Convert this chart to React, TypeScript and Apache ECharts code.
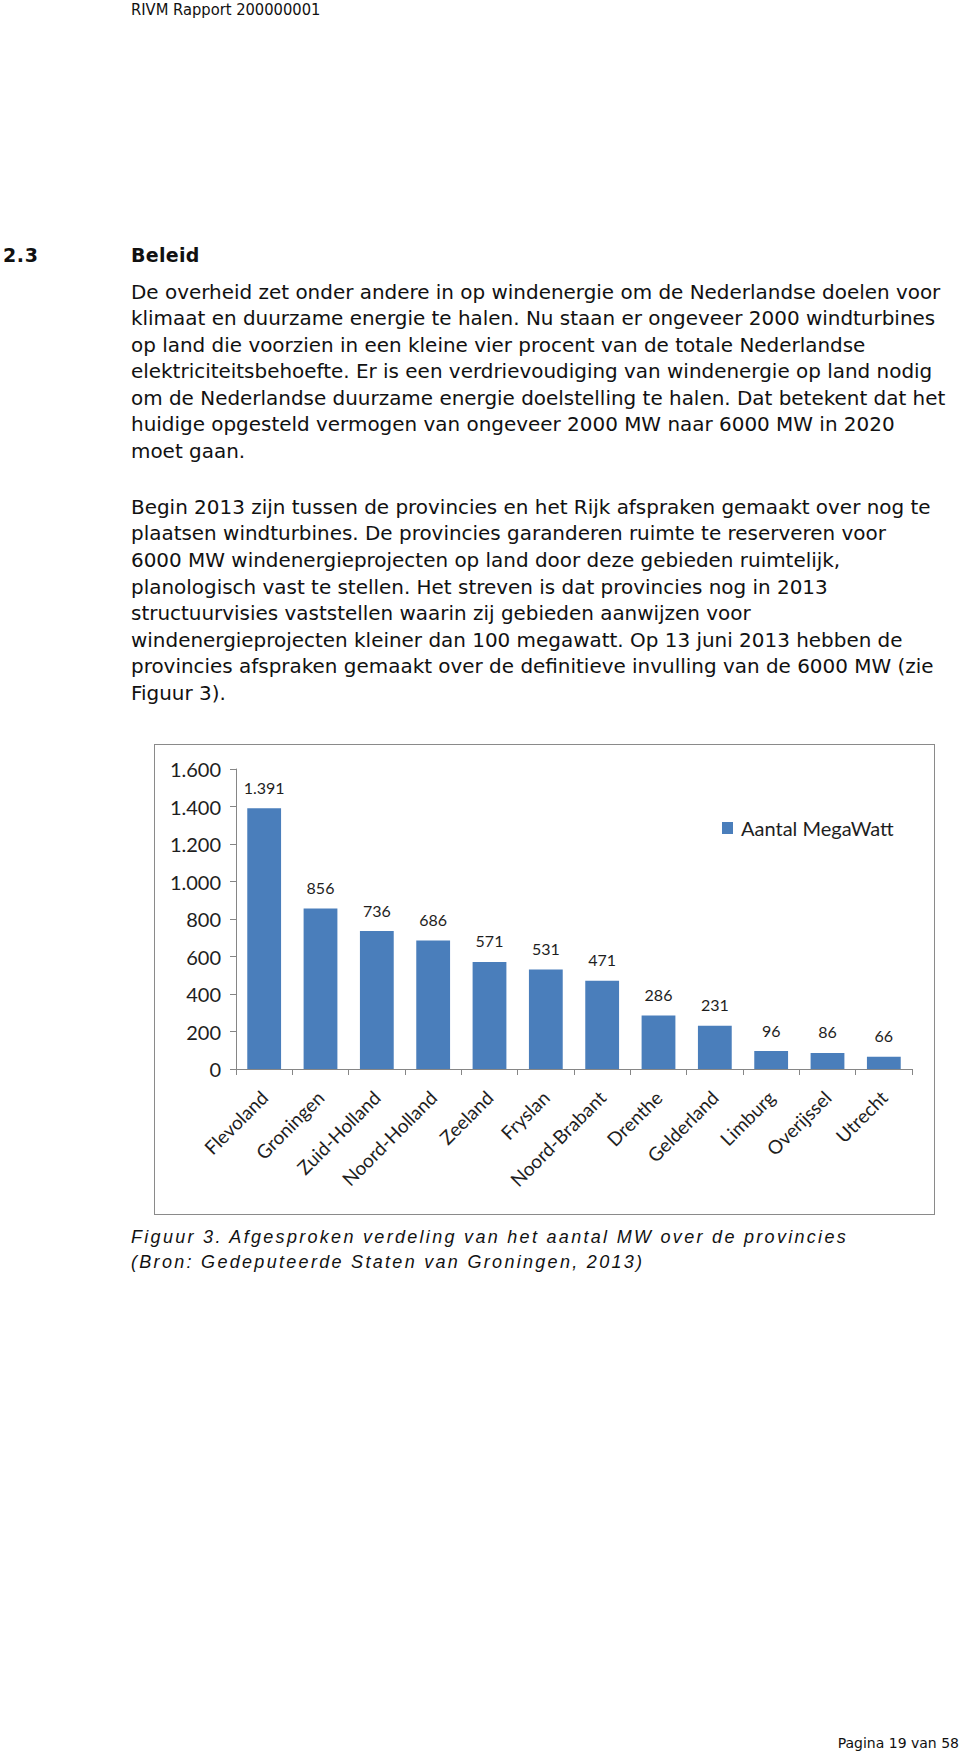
import React, { useEffect, useRef } from "react";
import * as echarts from "echarts";

const provinces = [
  "Flevoland",
  "Groningen",
  "Zuid-Holland",
  "Noord-Holland",
  "Zeeland",
  "Fryslan",
  "Noord-Brabant",
  "Drenthe",
  "Gelderland",
  "Limburg",
  "Overijssel",
  "Utrecht",
];
const megawatt = [1391, 856, 736, 686, 571, 531, 471, 286, 231, 96, 86, 66];
const seriesName = "Aantal MegaWatt";
const yMin = 0;
const yMax = 1600;
const yStep = 200;

const headerText = "RIVM Rapport 200000001";
const sectionNumber = "2.3";
const sectionTitle = "Beleid";
const paragraph1 = [
  "De overheid zet onder andere in op windenergie om de Nederlandse doelen voor",
  "klimaat en duurzame energie te halen. Nu staan er ongeveer 2000 windturbines",
  "op land die voorzien in een kleine vier procent van de totale Nederlandse",
  "elektriciteitsbehoefte. Er is een verdrievoudiging van windenergie op land nodig",
  "om de Nederlandse duurzame energie doelstelling te halen. Dat betekent dat het",
  "huidige opgesteld vermogen van ongeveer 2000 MW naar 6000 MW in 2020",
  "moet gaan.",
];
const paragraph2 = [
  "Begin 2013 zijn tussen de provincies en het Rijk afspraken gemaakt over nog te",
  "plaatsen windturbines. De provincies garanderen ruimte te reserveren voor",
  "6000 MW windenergieprojecten op land door deze gebieden ruimtelijk,",
  "planologisch vast te stellen. Het streven is dat provincies nog in 2013",
  "structuurvisies vaststellen waarin zij gebieden aanwijzen voor",
  "windenergieprojecten kleiner dan 100 megawatt. Op 13 juni 2013 hebben de",
  "provincies afspraken gemaakt over de definitieve invulling van de 6000 MW (zie",
  "Figuur 3).",
];
const captionLines = [
  "Figuur 3. Afgesproken verdeling van het aantal MW over de provincies",
  "(Bron: Gedeputeerde Staten van Groningen, 2013)",
];
const pageText = "Pagina 19 van 58";

function fmtNL(v: number): string {
  if (v >= 1000) {
    return Math.floor(v / 1000) + "." + String(v % 1000).padStart(3, "0");
  }
  return String(v);
}

const bodyFont = '"DejaVu Sans", Verdana, sans-serif';
const chartFont = 'Lato, "Open Sans", sans-serif';

function Chart() {
  const ref = useRef<HTMLDivElement>(null);
  useEffect(() => {
    if (!ref.current) return;
    const chart = echarts.init(ref.current, undefined, { renderer: "svg" });
    chart.setOption({
      animation: false,
      backgroundColor: "#ffffff",
      grid: { left: 82, right: 23, top: 25, bottom: 146, containLabel: false },
      legend: {
        data: [seriesName],
        icon: "rect",
        itemWidth: 11,
        itemHeight: 12,
        left: 563,
        top: 69,
        textStyle: {
          fontFamily: chartFont,
          fontSize: 20,
          color: "#1e1e1e",
          padding: [0, 0, 0, 3],
        },
      },
      xAxis: {
        type: "category",
        data: provinces,
        axisLine: { show: true, lineStyle: { color: "#868686", width: 1 } },
        axisTick: {
          show: true,
          alignWithLabel: false,
          length: 6,
          lineStyle: { color: "#868686" },
        },
        axisLabel: {
          rotate: 45,
          margin: 25,
          interval: 0,
          fontFamily: chartFont,
          fontSize: 19,
          color: "#1e1e1e",
        },
      },
      yAxis: {
        type: "value",
        min: yMin,
        max: yMax,
        interval: yStep,
        axisLine: { show: true, lineStyle: { color: "#868686", width: 1 } },
        axisTick: { show: true, length: 6, lineStyle: { color: "#868686" } },
        splitLine: { show: false },
        axisLabel: {
          margin: 15,
          fontFamily: chartFont,
          fontSize: 20,
          color: "#1e1e1e",
          formatter: (v: number) => fmtNL(v),
        },
      },
      series: [
        {
          name: seriesName,
          type: "bar",
          data: megawatt,
          barCategoryGap: "40%",
          itemStyle: { color: "#4a7ebb" },
          label: {
            show: true,
            position: "top",
            distance: 13,
            fontFamily: chartFont,
            fontSize: 16,
            color: "#1e1e1e",
            formatter: (p: any) => fmtNL(p.value),
          },
        },
      ],
    });
    return () => chart.dispose();
  }, []);
  return (
    <div
      ref={ref}
      style={{ position: "absolute", left: 154, top: 744, width: 781, height: 471 }}
    />
  );
}

export default function App() {
  useEffect(() => {
    document.body.style.margin = "0";
  }, []);
  const lineH = 26.6;
  const bodyStyle: React.CSSProperties = {
    position: "absolute",
    left: 131,
    whiteSpace: "nowrap",
    fontFamily: bodyFont,
    fontSize: 19.95,
    lineHeight: lineH + "px",
    height: lineH,
    color: "#111",
  };
  return (
    <div
      style={{
        position: "absolute",
        left: 0,
        top: 0,
        width: 960,
        height: 1760,
        overflow: "hidden",
        background: "#fff",
      }}
    >
      <div
        style={{
          position: "absolute",
          left: 131,
          top: 0,
          height: 20,
          lineHeight: "20px",
          whiteSpace: "nowrap",
          fontFamily: bodyFont,
          fontSize: 16,
          transform: "scaleX(0.92)",
          transformOrigin: "left center",
          color: "#111",
        }}
      >
        {headerText}
      </div>
      <div
        style={{
          position: "absolute",
          left: 3,
          top: 255 - 13,
          height: 26,
          lineHeight: "26px",
          fontFamily: bodyFont,
          fontWeight: "bold",
          fontSize: 19,
          letterSpacing: 0.6,
          color: "#111",
        }}
      >
        {sectionNumber}
      </div>
      <div
        style={{
          position: "absolute",
          left: 131,
          top: 255 - 13,
          height: 26,
          lineHeight: "26px",
          fontFamily: bodyFont,
          fontWeight: "bold",
          fontSize: 19,
          letterSpacing: 0.3,
          color: "#111",
        }}
      >
        {sectionTitle}
      </div>
      {paragraph1.map((t, i) => (
        <div key={"p1" + i} style={{ ...bodyStyle, top: 292 + i * 26.5 - lineH / 2 }}>
          {t}
        </div>
      ))}
      {paragraph2.map((t, i) => (
        <div key={"p2" + i} style={{ ...bodyStyle, top: 507 + i * 26.6 - lineH / 2 }}>
          {t}
        </div>
      ))}
      <Chart />
      <div
        style={{
          position: "absolute",
          left: 154,
          top: 744,
          width: 781,
          height: 471,
          boxSizing: "border-box",
          border: "1.5px solid #8a8a8a",
          pointerEvents: "none",
        }}
      />
      {captionLines.map((t, i) => (
        <div
          key={"c" + i}
          style={{
            position: "absolute",
            left: 131,
            top: 1237 + i * 25 - 12,
            height: 24,
            lineHeight: "24px",
            whiteSpace: "nowrap",
            fontFamily: '"Liberation Sans", Arial, sans-serif',
            fontStyle: "italic",
            fontSize: 18,
            letterSpacing: 2.3,
            color: "#111",
          }}
        >
          {t}
        </div>
      ))}
      <div
        style={{
          position: "absolute",
          right: 1,
          top: 1743 - 10,
          height: 20,
          lineHeight: "20px",
          whiteSpace: "nowrap",
          fontFamily: bodyFont,
          fontSize: 14,
          color: "#111",
        }}
      >
        {pageText}
      </div>
    </div>
  );
}
